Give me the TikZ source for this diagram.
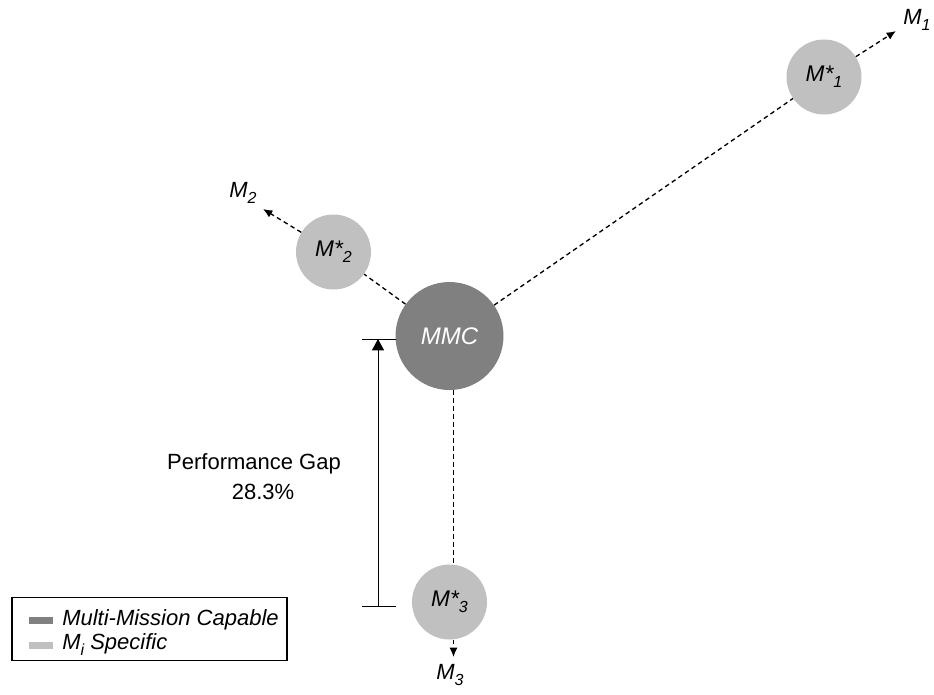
\documentclass[tikz,border=0pt]{standalone}
\usepackage{fontspec}
\setmainfont{Liberation Sans}
\usetikzlibrary{arrows.meta,calc}
\newcommand\lsub[1]{\raisebox{-4.5pt}{\fontsize{12}{13}\selectfont #1}}
\definecolor{mmcgray}{RGB}{128,128,128}
\definecolor{spgray}{RGB}{192,192,192}
\begin{document}
\begin{tikzpicture}[x=0.75pt,y=-0.75pt,
  every node/.style={font=\fontsize{16.5}{19}\selectfont},
  bigcirc/.style={circle,fill=mmcgray,minimum size=81pt,inner sep=0pt,text=white,font=\fontsize{18}{21}\selectfont\itshape},
  smallcirc/.style={circle,fill=spgray,minimum size=56.25pt,inner sep=0pt,font=\fontsize{17}{20}\selectfont\itshape},
  dashline/.style={line width=1pt,dash pattern=on 3.4pt off 2.6pt},
  dasharrow/.style={dashline,-{Latex[length=7pt,width=6pt]}},
  lbl/.style={inner sep=0pt,font=\fontsize{16.5}{19}\selectfont\itshape},
  gapline/.style={line width=0.75pt}
]
\useasboundingbox (0,0) rectangle (934,694);
% circles
\node[bigcirc] (mmc) at (449.5,336) {MMC};
\node[smallcirc] (m1) at (824,77) {M*\lsub{1}};
\node[smallcirc] (m2) at (333.5,252) {M*\lsub{2}};
\node[smallcirc] (m3) at (449.5,602) {M*\lsub{3}};
% free ends
\coordinate (t1) at (896,31);
\coordinate (t2) at (263,209);
\coordinate (t3) at (453.5,657);
% labels
\node[lbl] (l1) at (917,20) {M\lsub{1}};
\node[lbl] (l2) at (243,193) {M\lsub{2}};
\node[lbl] (l3) at (450,675) {M\lsub{3}};
% connectors
\draw[dashline] (mmc) -- (m1);
\draw[dasharrow] (m1) -- (t1);
\draw[dashline] (mmc) -- (m2);
\draw[dasharrow] (m2) -- (t2);
\draw[dashline] ([xshift=3pt]mmc.south) -- ([xshift=3pt]m3.north);
\draw[dasharrow] ([xshift=3pt]m3.south) -- (t3);
% performance gap
\coordinate (gtl) at (362,339);
\coordinate (gtr) at (396,339);
\coordinate (gbl) at (362,606);
\coordinate (gbr) at (396,606);
\coordinate (gtop) at (378,339);
\coordinate (gbot) at (378,606);
\draw[gapline] (gtl) -- (gtr);
\draw[gapline] (gbl) -- (gbr);
\draw[gapline,-{Triangle[length=8.5pt,width=9pt]}] (gbot) -- (gtop);
\node[inner sep=0pt] (gap1) at (254,464) {Performance Gap};
\node[inner sep=0pt] (gap2) at (263,492) {28.3\%};
% legend
\node[draw,line width=1pt,minimum width=206.25pt,minimum height=47.25pt,inner sep=0pt] (legend) at (149.5,629) {};
\node[fill=mmcgray,minimum width=18pt,minimum height=5.25pt,inner sep=0pt] (sw1) at (41,620.5) {};
\node[fill=spgray,minimum width=18pt,minimum height=5.25pt,inner sep=0pt] (sw2) at (41,645.5) {};
\node[lbl,anchor=west] (lt1) at (62,620) {Multi-Mission Capable};
\node[lbl,anchor=west] (lt2) at (62,645) {M\lsub{i} Specific};
\end{tikzpicture}
\end{document}
